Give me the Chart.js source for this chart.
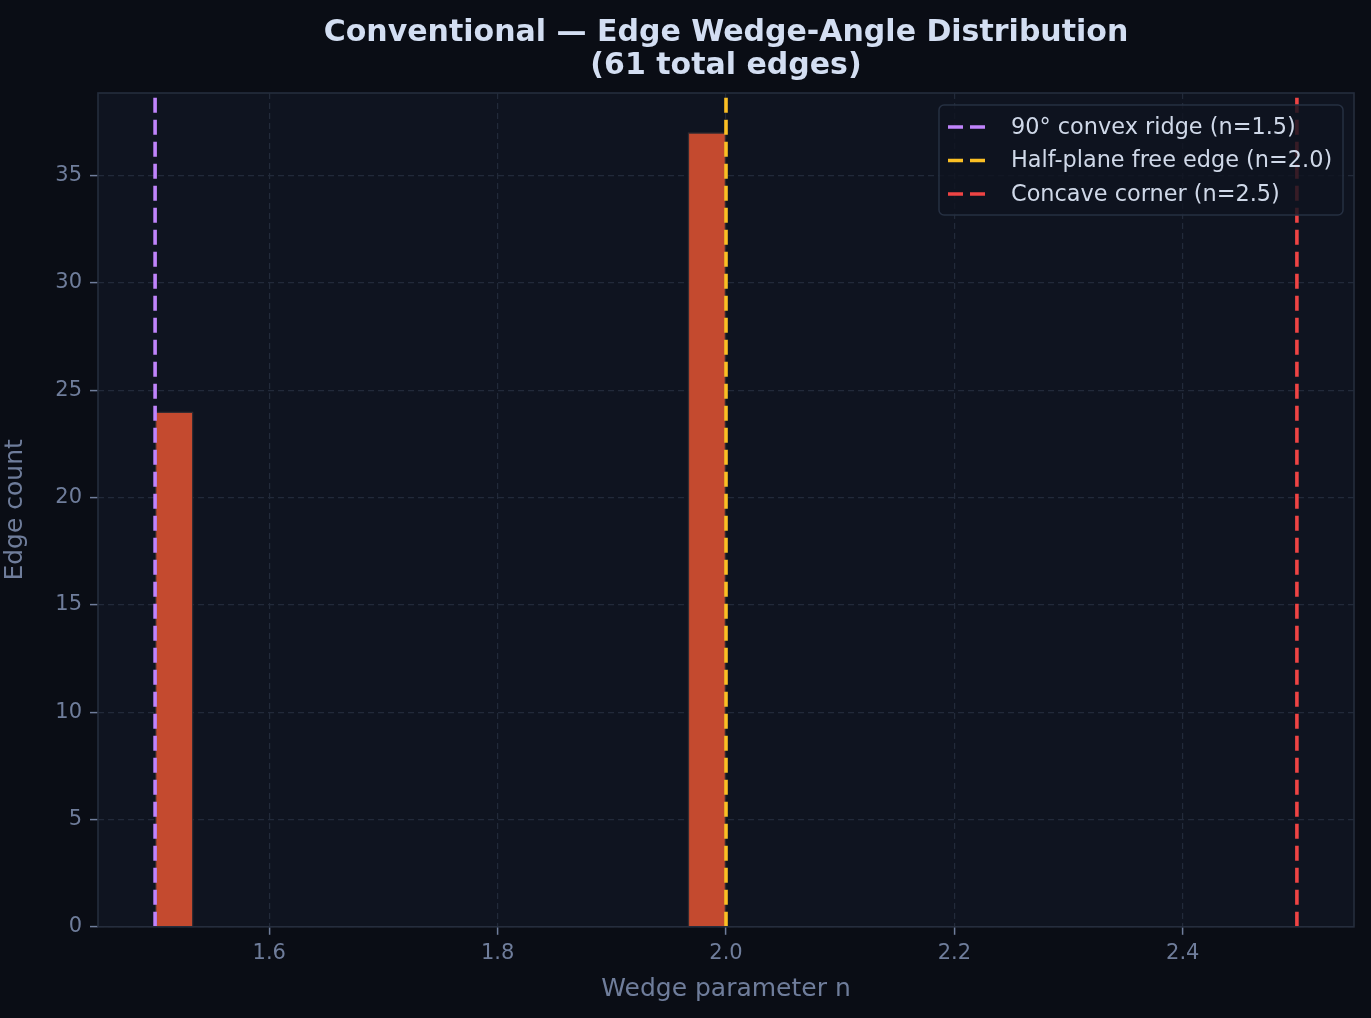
<!DOCTYPE html>
<html>
<head>
<meta charset="utf-8">
<script src="https://cdn.jsdelivr.net/npm/chart.js@4.4.1/dist/chart.umd.min.js"></script>
<style>
  html, body { margin: 0; padding: 0; background: #0a0d15; }
  #wrap { width: 1371px; height: 1018px; }
</style>
</head>
<body>
<div id="wrap"><canvas id="hist" width="1371" height="1018"></canvas></div>
<script>
// histogram bins (centres) and counts
var binCenters = [1.5167, 1.55, 1.5833, 1.6167, 1.65, 1.6833, 1.7167, 1.75,
                  1.7833, 1.8167, 1.85, 1.8833, 1.9167, 1.95, 1.9833];
var edgeCounts = [24, null, null, null, null, null, null, null,
                  null, null, null, null, null, null, 37];

// reference wedge values (vertical lines)
var refNames = ["90° convex ridge (n=1.5)", "Half-plane free edge (n=2.0)", "Concave corner (n=2.5)"];
var refValues = [1.5, 2.0, 2.5];
var refColors = ["#c084fc", "#fbbf24", "#ef4444"];

var xTicks = [1.6, 1.8, 2.0, 2.2, 2.4];
var yTicks = [0, 5, 10, 15, 20, 25, 30, 35];
var yMax = 38.85;

var FONT = "'DejaVu Sans', sans-serif";

var datasets = [{
  type: 'bar',
  label: 'edges',
  data: binCenters.map(function (c, i) { return { x: c, y: edgeCounts[i] }; }),
  backgroundColor: '#c44a2f',
  borderColor: 'rgba(55,45,50,0.9)',
  borderWidth: 1.5,
  borderSkipped: 'bottom',
  barPercentage: 1.0,
  categoryPercentage: 1.0,
  order: 2
}];

refValues.forEach(function (v, i) {
  datasets.push({
    type: 'line',
    label: refNames[i],
    data: [{ x: v, y: 0 }, { x: v, y: yMax }],
    borderColor: refColors[i],
    borderWidth: 3.6,
    borderDash: [15, 7],
    pointRadius: 0,
    fill: false,
    order: 1
  });
});

// plot background + matplotlib-like legend inside the axes
var axesBox = {
  id: 'axesBox',
  afterLayout: function (chart) {
    // centre the title over the plot area, like matplotlib does
    if (chart.titleBlock) {
      chart.titleBlock.left = chart.chartArea.left;
      chart.titleBlock.right = chart.chartArea.right;
    }
  },
  beforeDraw: function (chart) {
    var a = chart.chartArea, ctx = chart.ctx;
    ctx.save();
    ctx.fillStyle = '#0f1420';
    ctx.fillRect(a.left, a.top, a.right - a.left, a.bottom - a.top);
    ctx.restore();
  },
  afterDraw: function (chart) {
    var a = chart.chartArea, ctx = chart.ctx;
    ctx.save();
    // axes frame
    ctx.strokeStyle = '#252d3d';
    ctx.lineWidth = 1.6;
    ctx.strokeRect(a.left, a.top, a.right - a.left, a.bottom - a.top);

    // legend
    var bx = 939, by = 105, bw = 404, bh = 110;
    ctx.fillStyle = 'rgba(15,20,32,0.82)';
    ctx.strokeStyle = '#263042';
    ctx.lineWidth = 1.5;
    ctx.beginPath();
    ctx.roundRect(bx, by, bw, bh, 5);
    ctx.fill();
    ctx.stroke();
    ctx.font = '22.4px ' + FONT;
    ctx.textBaseline = 'middle';
    for (var i = 0; i < refNames.length; i++) {
      var yy = by + 22 + i * 33.5;
      ctx.strokeStyle = refColors[i];
      ctx.lineWidth = 3.6;
      ctx.setLineDash([15, 7]);
      ctx.beginPath();
      ctx.moveTo(948, yy);
      ctx.lineTo(990, yy);
      ctx.stroke();
      ctx.setLineDash([]);
      ctx.fillStyle = '#cfd8e8';
      ctx.fillText(refNames[i], 1011, yy + 1);
    }
    ctx.restore();
  }
};

new Chart(document.getElementById('hist'), {
  type: 'bar',
  data: { datasets: datasets },
  options: {
    responsive: false,
    animation: false,
    devicePixelRatio: 1,
    layout: { padding: { top: 0, right: 17, bottom: 0, left: 0 } },
    plugins: {
      legend: { display: false },
      tooltip: { enabled: false },
      title: {
        display: true,
        text: ['Conventional — Edge Wedge-Angle Distribution', '(61 total edges)'],
        color: '#d3def2',
        font: { family: FONT, size: 30, weight: 'bold', lineHeight: 1.1 },
        padding: { top: 17, bottom: 10 }
      }
    },
    scales: {
      x: {
        type: 'linear',
        min: 1.45,
        max: 2.55,
        offset: false,
        z: 1,
        afterBuildTicks: function (s) { s.ticks = xTicks.map(function (v) { return { value: v }; }); },
        ticks: {
          color: '#6f7d9b',
          font: { family: FONT, size: 21 },
          padding: 6,
          maxRotation: 0,
          callback: function (v) { return v.toFixed(1); }
        },
        grid: { offset: false, color: '#222a3a', lineWidth: 1.2, tickColor: '#6f7d9b', tickLength: 8, tickWidth: 1.5 },
        border: { display: false, dash: [6, 4] },
        title: {
          display: true,
          text: 'Wedge parameter n',
          color: '#6f7d9b',
          font: { family: FONT, size: 25 },
          padding: { top: 2, bottom: 14 }
        }
      },
      y: {
        min: 0,
        max: yMax,
        z: 1,
        afterBuildTicks: function (s) { s.ticks = yTicks.map(function (v) { return { value: v }; }); },
        afterFit: function (s) { s.width = 98; },
        ticks: {
          color: '#6f7d9b',
          font: { family: FONT, size: 21 },
          padding: 8
        },
        grid: { color: '#222a3a', lineWidth: 1.2, tickColor: '#6f7d9b', tickLength: 8, tickWidth: 1.5 },
        border: { display: false, dash: [6, 4] },
        title: {
          display: true,
          text: 'Edge count',
          color: '#6f7d9b',
          font: { family: FONT, size: 25 },
          padding: { top: 0, bottom: 4 }
        }
      }
    }
  },
  plugins: [axesBox]
});
</script>
</body>
</html>
